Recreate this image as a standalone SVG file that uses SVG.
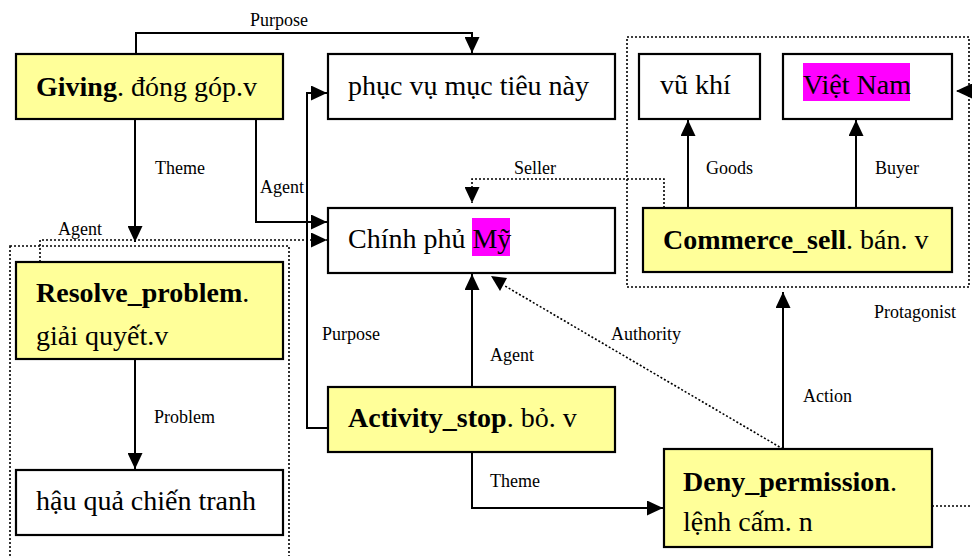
<svg xmlns="http://www.w3.org/2000/svg" width="972" height="556" viewBox="0 0 972 556">
<defs>
<style>
.box{stroke:#000;stroke-width:2.2}
.frame{fill:#ffff99}
.plain{fill:#fff}
.nt{font-family:"Liberation Serif","Times New Roman",serif;font-size:28px;fill:#000}
.b{font-weight:bold}
.lbl{font-family:"Liberation Serif","Times New Roman",serif;font-size:18px;fill:#000}
.solid{fill:none;stroke:#000;stroke-width:2}
.dot{fill:none;stroke:#000;stroke-width:1.6;stroke-dasharray:2 2}
.grp{fill:none;stroke:#000;stroke-width:1.6;stroke-dasharray:2 2}
</style>
<marker id="ah" markerUnits="userSpaceOnUse" markerWidth="16" markerHeight="15" refX="16" refY="7.5" orient="auto">
<path d="M0,0 L16,7.5 L0,15 z" fill="#000"/>
</marker>
</defs>
<rect width="972" height="556" fill="#fff"/>

<g id="groups">
<rect class="grp" x="10" y="246" width="279" height="330"/>
<rect class="grp" x="627" y="37" width="342" height="250"/>
</g>

<g id="connectors">
<path class="solid" d="M136,53 V33 H472 V53" marker-end="url(#ah)"/>
<path class="solid" d="M135,119 V242" marker-end="url(#ah)"/>
<path class="solid" d="M256,119 V222 H327" marker-end="url(#ah)"/>
<path class="dot" d="M40,262 V240 H327" marker-end="url(#ah)"/>
<path class="solid" d="M135,359 V469" marker-end="url(#ah)"/>
<path class="solid" d="M328,428 H307 V93 H327" marker-end="url(#ah)"/>
<path class="solid" d="M472,387 V274" marker-end="url(#ah)"/>
<path class="solid" d="M472,452 V508 H663" marker-end="url(#ah)"/>
<path class="dot" d="M783,449 L505,286"/>
<polygon points="491,276 507,278 500,291" fill="#000"/>
<path class="solid" d="M783,449 V292" marker-end="url(#ah)"/>
<path class="solid" d="M688,207 V120" marker-end="url(#ah)"/>
<path class="solid" d="M856,207 V120" marker-end="url(#ah)"/>
<path class="dot" d="M664,208 V179 H472 V203" marker-end="url(#ah)"/>
<path class="dot" d="M932,506 H990 V91 H956" marker-end="url(#ah)"/>
</g>

<g id="labels">
<text class="lbl" x="250" y="26">Purpose</text>
<text class="lbl" x="155" y="174">Theme</text>
<text class="lbl" x="260" y="193">Agent</text>
<text class="lbl" x="58" y="235">Agent</text>
<text class="lbl" x="514" y="174">Seller</text>
<text class="lbl" x="706" y="174">Goods</text>
<text class="lbl" x="875" y="174">Buyer</text>
<text class="lbl" x="874" y="318">Protagonist</text>
<text class="lbl" x="322" y="340">Purpose</text>
<text class="lbl" x="490" y="361">Agent</text>
<text class="lbl" x="611" y="340">Authority</text>
<text class="lbl" x="154" y="423">Problem</text>
<text class="lbl" x="803" y="402">Action</text>
<text class="lbl" x="490" y="487">Theme</text>
</g>

<g id="giving">
<rect class="box frame" x="16" y="54" width="267" height="65"/>
<text class="nt" x="36" y="96"><tspan class="b">Giving</tspan>. đóng góp.v</text>
</g>
<g id="phuc-vu">
<rect class="box plain" x="328" y="54" width="287" height="65"/>
<text class="nt" x="348" y="95">phục vụ mục tiêu này</text>
</g>
<g id="chinh-phu">
<rect class="box plain" x="328" y="208" width="287" height="65"/>
<rect x="472" y="218" width="38" height="38" fill="#ff00ff"/>
<text class="nt" x="348" y="248">Chính phủ Mỹ</text>
</g>
<g id="vu-khi">
<rect class="box plain" x="639" y="54" width="121" height="65"/>
<text class="nt" x="660" y="94">vũ khí</text>
</g>
<g id="viet-nam">
<rect class="box plain" x="783" y="54" width="169" height="65"/>
<rect x="803" y="63" width="107" height="38" fill="#ff00ff"/>
<text class="nt" x="803" y="94">Việt Nam</text>
</g>
<g id="commerce-sell">
<rect class="box frame" x="643" y="208" width="309" height="64"/>
<text class="nt" x="663" y="249"><tspan class="b">Commerce_sell</tspan>. bán. v</text>
</g>
<g id="resolve-problem">
<rect class="box frame" x="16" y="262" width="267" height="97"/>
<text class="nt" x="36" y="302"><tspan class="b">Resolve_problem</tspan>.</text>
<text class="nt" x="36" y="345">giải quyết.v</text>
</g>
<g id="hau-qua">
<rect class="box plain" x="16" y="470" width="267" height="65"/>
<text class="nt" x="36" y="510">hậu quả chiến tranh</text>
</g>
<g id="activity-stop">
<rect class="box frame" x="328" y="387" width="287" height="65"/>
<text class="nt" x="348" y="427"><tspan class="b">Activity_stop</tspan>. bỏ. v</text>
</g>
<g id="deny-permission">
<rect class="box frame" x="664" y="449" width="268" height="98"/>
<text class="nt" x="683" y="491"><tspan class="b">Deny_permission</tspan>.</text>
<text class="nt" x="683" y="531">lệnh cấm. n</text>
</g>
</svg>
